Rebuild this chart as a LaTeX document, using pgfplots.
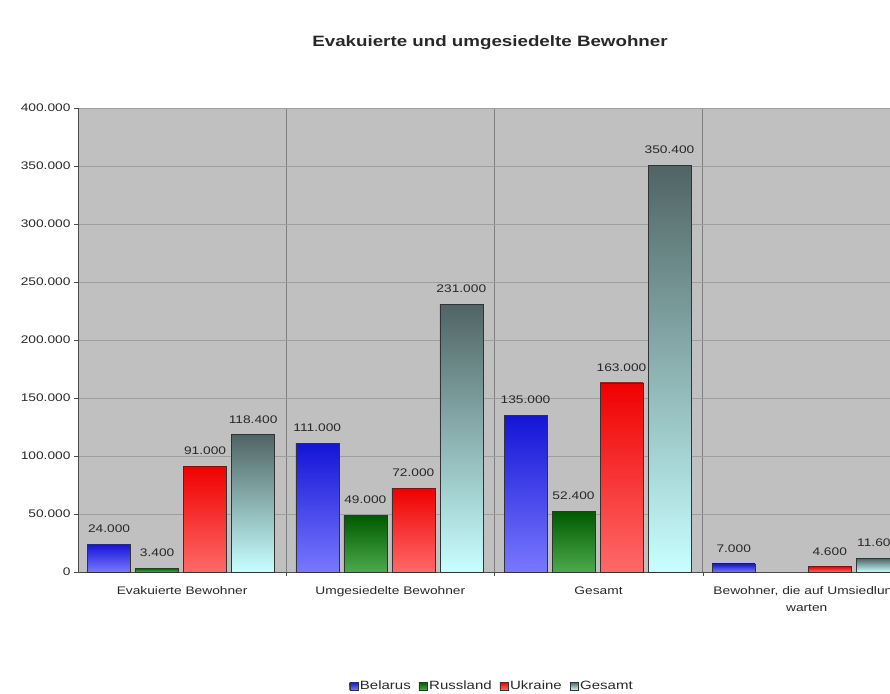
\documentclass[border=0pt]{standalone}
\usepackage{pgfplots}
\pgfplotsset{compat=1.18}
\usepackage{fontspec}
\setmainfont{Liberation Sans}[FakeStretch=1.25]

\definecolor{plotbg}{RGB}{192,192,192}
\definecolor{txt}{RGB}{40,40,40}
\pgfplotsset{
  mylegend/.style={legend image code/.code={\draw[##1] (0pt,-4pt) rectangle (8pt,4pt);}},
  bBel/.style={draw=black!80, top color={rgb,255:red,20;green,20;blue,215}, bottom color={rgb,255:red,120;green,120;blue,255}},
  bRus/.style={draw=black!80, top color={rgb,255:red,0;green,90;blue,0}, bottom color={rgb,255:red,75;green,170;blue,75}},
  bUkr/.style={draw=black!80, top color={rgb,255:red,240;green,0;blue,0}, bottom color={rgb,255:red,255;green,105;blue,105}},
  bGes/.style={draw=black!80, top color={rgb,255:red,80;green,100;blue,100}, bottom color={rgb,255:red,200;green,255;blue,255}},
}

\begin{document}
\begin{tikzpicture}[x=1pt,y=1pt]
\path[use as bounding box] (0,0) rectangle (890,693);
\clip (0,0) rectangle (890,693);
\begin{axis}[
  at={(78pt,121pt)}, anchor=south west,
  scale only axis, width=812pt, height=464pt,
  xmin=-0.5, xmax=3.4, ymin=0, ymax=400000,
  axis background/.style={fill=plotbg},
  axis lines*=left,
  axis line style={draw=black!70, line width=1pt},
  xtick={0.5,1.5,2.5}, xticklabels={},
  xmajorgrids, major x grid style={draw=black!50, line width=0.8pt},
  extra x ticks={0,1,2,3},
  extra x tick labels={Evakuierte Bewohner, Umgesiedelte Bewohner, Gesamt, {Bewohner, die auf Umsiedlung\\warten}},
  extra x tick style={xmajorgrids=false, major tick length=0pt, tick label style={align=center, yshift=-11pt, font=\fontsize{11}{17}\selectfont}},
  ytick={0,50000,100000,150000,200000,250000,300000,350000,400000},
  scaled y ticks=false,
  ymajorgrids, major y grid style={draw=black!38, line width=0.6pt},
  tick align=outside, major tick length=4pt,
  tick style={draw=black!70},
  /pgf/number format/fixed,
  /pgf/number format/1000 sep={.},
  /pgf/number format/assume math mode=true,
  tick label style={font=\fontsize{11}{13}\selectfont, text=txt},
  ybar=0pt, bar width=43pt,
  nodes near coords,
  nodes near coords style={font=\fontsize{11}{13}\selectfont, text=txt, yshift=8pt},
  legend style={at={(0.51,-0.246)}, anchor=center, draw=none, fill=none,
    legend columns=4, font=\fontsize{12}{14}\selectfont, text=txt,
    /tikz/every even column/.append style={column sep=6pt}},
]
% Belarus
\addplot[bBel, bar shift=-73pt, forget plot] coordinates {(0,24000)};
\addplot[bBel, bar shift=-73pt, forget plot] coordinates {(1,111000)};
\addplot[bBel, bar shift=-73pt, forget plot] coordinates {(2,135000)};
\addplot[bBel, bar shift=-73pt, forget plot] coordinates {(3,7000)};
% Russland
\addplot[bRus, bar shift=-25pt, forget plot] coordinates {(0,3400)};
\addplot[bRus, bar shift=-25pt, forget plot] coordinates {(1,49000)};
\addplot[bRus, bar shift=-25pt, forget plot] coordinates {(2,52400)};
% Ukraine
\addplot[bUkr, bar shift=23pt, forget plot] coordinates {(0,91000)};
\addplot[bUkr, bar shift=23pt, forget plot] coordinates {(1,72000)};
\addplot[bUkr, bar shift=23pt, forget plot] coordinates {(2,163000)};
\addplot[bUkr, bar shift=23pt, forget plot] coordinates {(3,4600)};
% Gesamt
\addplot[bGes, bar shift=71pt, forget plot] coordinates {(0,118400)};
\addplot[bGes, bar shift=71pt, forget plot] coordinates {(1,231000)};
\addplot[bGes, bar shift=71pt, forget plot] coordinates {(2,350400)};
\addplot[bGes, bar shift=71pt, forget plot] coordinates {(3,11600)};
\addlegendimage{bBel, mylegend}
\addlegendentry{Belarus}
\addlegendimage{bRus, mylegend}
\addlegendentry{Russland}
\addlegendimage{bUkr, mylegend}
\addlegendentry{Ukraine}
\addlegendimage{bGes, mylegend}
\addlegendentry{Gesamt}
\end{axis}
\node[font=\fontsize{15}{18}\selectfont\bfseries, text=txt] at (490,650) {Evakuierte und umgesiedelte Bewohner};
\end{tikzpicture}
\end{document}
